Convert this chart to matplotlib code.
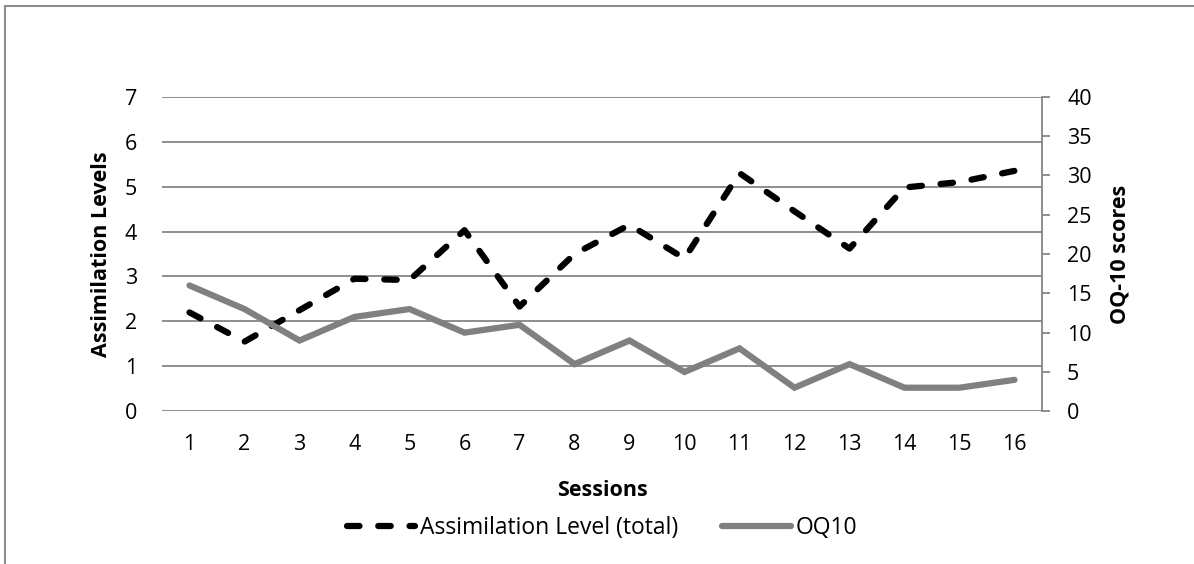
import matplotlib
matplotlib.use("Agg")
import matplotlib.pyplot as plt
from matplotlib.lines import Line2D

sessions = list(range(1, 17))
session_labels = [str(s) for s in sessions]
assimilation = [2.2, 1.55, 2.25, 2.95, 2.92, 4.03, 2.33, 3.5, 4.15, 3.4, 5.3, 4.45, 3.62, 4.98, 5.1, 5.35]
oq10 = [16, 13, 9, 12, 13, 10, 11, 6, 9, 5, 8, 3, 6, 3, 3, 4]
left_ticks = [0, 1, 2, 3, 4, 5, 6, 7]
right_ticks = [0, 5, 10, 15, 20, 25, 30, 35, 40]

plt.rcParams['font.family'] = ['Open Sans', 'DejaVu Sans']
FS = 15.5

W, H = 1194, 564
fig = plt.figure(figsize=(W / 100, H / 100), dpi=100)
fig.patch.set_facecolor('white')

L, R, T, B = 162, 1042, 96.7, 411.3
ax = fig.add_axes([L / W, 1 - B / H, (R - L) / W, (B - T) / H])
ax2 = ax.twinx()

grid_c = '#868686'
ax.set_ylim(0, 7)
ax.set_xlim(0.5, 16.5)
ax.set_yticks(left_ticks)
ax.yaxis.grid(True, color=grid_c, linewidth=1.3)
ax.set_axisbelow(True)
for s in ['left', 'top', 'right', 'bottom']:
    ax.spines[s].set_visible(False)
ax.tick_params(axis='y', length=0, pad=18, labelsize=FS)
ax.set_xticks(sessions)
ax.set_xticklabels(session_labels)
ax.tick_params(axis='x', length=0, pad=16, labelsize=FS)

ax2.set_ylim(0, 40)
ax2.set_yticks(right_ticks)
for s in ['left', 'top', 'bottom']:
    ax2.spines[s].set_visible(False)
ax2.spines['right'].set_color(grid_c)
ax2.spines['right'].set_linewidth(1.3)
ax2.tick_params(axis='y', length=6, width=1.3, color=grid_c, direction='out', pad=12, labelsize=FS)

l1, = ax.plot(sessions, assimilation, color='black', linewidth=4.5,
              dashes=(2.0, 3.0), dash_capstyle='round', solid_capstyle='round',
              label='Assimilation Level (total)', zorder=4)
l2, = ax2.plot(sessions, oq10, color='#808080', linewidth=4.5,
               solid_capstyle='round', solid_joinstyle='miter', label='OQ10', zorder=3)

ax.set_ylabel('Assimilation Levels', fontsize=FS, fontweight='bold', labelpad=9)
ax2.set_ylabel('OQ-10 scores', fontsize=FS, fontweight='bold', labelpad=13)
ax.set_xlabel('Sessions', fontsize=FS, fontweight='bold', labelpad=18)

fig.legend(handles=[l1, l2], loc='center', bbox_to_anchor=(602 / W, 1 - 528 / H),
           ncol=2, frameon=False, fontsize=16.5, handlelength=3.0,
           handletextpad=0.22, columnspacing=1.9)

# outer chart frame (only top and left edges visible)
fig.add_artist(Line2D([5 / W, 1.0], [1 - 6 / H, 1 - 6 / H], color='#8c8c8c', linewidth=1.5,
                      transform=fig.transFigure))
fig.add_artist(Line2D([5 / W, 5 / W], [1 - 6 / H, 0.0], color='#8c8c8c', linewidth=1.5,
                      transform=fig.transFigure))

fig.savefig('out.png', dpi=100, facecolor='white')
